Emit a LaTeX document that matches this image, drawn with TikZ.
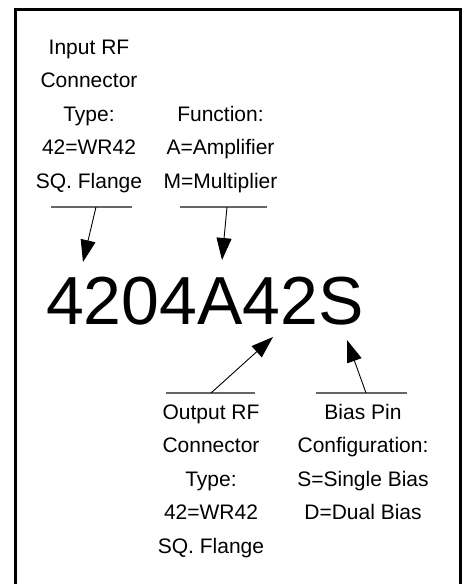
\documentclass[tikz,border=0pt]{standalone}
\usepackage{fontspec}
\setmainfont{Liberation Sans}
\usetikzlibrary{arrows.meta}
\begin{document}
\begin{tikzpicture}[x=1pt,y=-1pt,
  lbl/.style={font=\fontsize{21}{33.6}\selectfont, inner sep=0pt, anchor=base},
  code/.style={font=\fontsize{68}{80}\selectfont, inner sep=0pt, anchor=base},
  frame/.style={line width=2.6pt, draw=black},
  rule/.style={line width=1.2pt, draw=black!60},
  arr/.style={line width=0.9pt, draw=black, -{Triangle[length=22pt,width=15pt]}}]
\clip (0,0) rectangle (464,584);
\draw[frame] (15.3,9.7) rectangle (460.7,600);
% labels
\node[lbl] (inp) at (89,54) {\begin{tabular}[t]{@{}c@{}}Input RF\\Connector\\Type:\\42=WR42\\SQ. Flange\end{tabular}};
\node[lbl] (fun) at (220.5,121) {\begin{tabular}[t]{@{}c@{}}Function:\\A=Amplifier\\M=Multiplier\end{tabular}};
\node[lbl] (out) at (211,419) {\begin{tabular}[t]{@{}c@{}}Output RF\\Connector\\Type:\\42=WR42\\SQ. Flange\end{tabular}};
\node[lbl] (bias) at (363,419) {\begin{tabular}[t]{@{}c@{}}Bias Pin\\Configuration:\\S=Single Bias\\D=Dual Bias\end{tabular}};
\node[code] (code) at (205,324) {4204A42S};
% underline coordinates
\coordinate (u1a) at (51,207);  \coordinate (u1b) at (132,207);
\coordinate (u2a) at (180,207); \coordinate (u2b) at (267,207);
\coordinate (u3a) at (166,393); \coordinate (u3b) at (255,393);
\coordinate (u4a) at (316,393); \coordinate (u4b) at (407,393);
\draw[rule] (u1a) -- (u1b);
\draw[rule] (u2a) -- (u2b);
\draw[rule] (u3a) -- (u3b);
\draw[rule] (u4a) -- (u4b);
% arrow ends
\coordinate (s1) at (96,207);  \coordinate (t1) at (83,262);
\coordinate (s2) at (227,207); \coordinate (t2) at (222,260);
\coordinate (s3) at (211,393); \coordinate (t3) at (273,337);
\coordinate (s4) at (366,393); \coordinate (t4) at (347,340);
\draw[arr] (s1) -- (t1);
\draw[arr] (s2) -- (t2);
\draw[arr] (s3) -- (t3);
\draw[arr] (s4) -- (t4);
\end{tikzpicture}
\end{document}
